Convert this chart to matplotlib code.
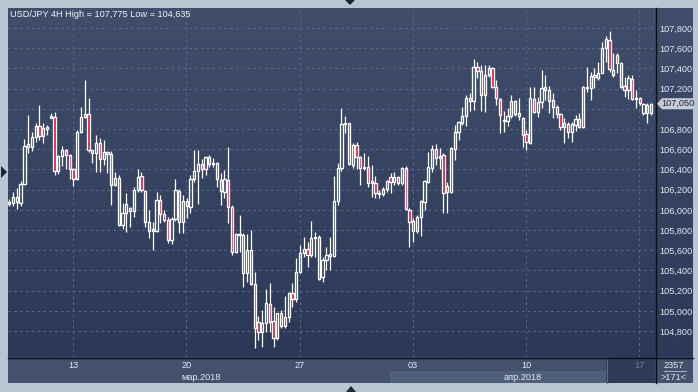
import matplotlib
matplotlib.use('Agg')
import matplotlib.pyplot as plt
import numpy as np
from matplotlib.patches import Rectangle, Polygon
from matplotlib.lines import Line2D
from matplotlib.colors import LinearSegmentedColormap
from matplotlib.transforms import blended_transform_factory

plt.rcParams['font.family'] = ['Liberation Sans', 'DejaVu Sans']
plt.rcParams['lines.scale_dashes'] = False

# USD/JPY 4H candles
opens = [106.054, 106.070, 106.124, 106.070, 106.252, 106.648, 106.619, 106.721, 106.830, 106.734,
         106.797, 106.912, 106.922, 106.387, 106.533, 106.589, 106.540, 106.401, 106.302, 106.767,
         106.916, 106.948, 106.589, 106.559, 106.658, 106.500, 106.569, 106.549, 106.246, 106.312,
         105.850, 105.965, 106.015, 105.988, 106.196, 106.335, 106.183, 105.876, 105.790, 105.790,
         106.094, 105.955, 105.896, 105.701, 105.906, 106.186, 105.876, 106.087, 106.031, 106.302,
         106.384, 106.450, 106.401, 106.520, 106.450, 106.466, 106.295, 106.179, 106.295, 106.031,
         105.585, 105.748, 105.751, 105.377, 105.602, 105.262, 104.892, 104.793, 104.876, 105.067,
         104.899, 104.728, 104.975, 104.850, 104.936, 105.173, 105.114, 105.387, 105.575, 105.609,
         105.553, 105.718, 105.728, 105.332, 105.503, 105.543, 105.543, 106.087, 106.411, 106.846,
         106.859, 106.444, 106.642, 106.526, 106.411, 106.421, 106.285, 106.262, 106.153, 106.156,
         106.203, 106.328, 106.278, 106.328, 106.268, 106.411, 105.998, 105.889, 105.790, 105.926,
         106.080, 106.278, 106.417, 106.602, 106.510, 106.543, 106.179, 106.179, 106.602, 106.767,
         106.862, 106.929, 107.104, 107.077, 107.411, 107.377, 107.137, 107.335, 107.401, 107.213,
         107.097, 106.876, 106.879, 106.932, 107.077, 106.955, 106.912, 106.747, 106.658, 107.097,
         106.965, 107.070, 107.216, 107.183, 107.084, 107.018, 106.945, 106.823, 106.852, 106.773,
         106.840, 106.896, 106.823, 107.209, 107.209, 107.318, 107.308, 107.357, 107.599, 107.681,
         107.384, 107.533, 107.450, 107.226, 107.186, 107.295, 107.110, 107.104, 106.955, 107.038,
         106.955]
highs = [106.107, 106.179, 106.213, 106.285, 106.701, 106.939, 106.773, 106.856, 107.038, 106.856,
         106.840, 106.955, 106.965, 106.543, 106.635, 106.602, 106.549, 106.411, 106.790, 107.021,
         107.285, 107.104, 106.592, 106.741, 106.708, 106.691, 106.582, 106.582, 106.377, 106.345,
         106.064, 106.163, 106.028, 106.229, 106.401, 106.377, 106.196, 105.998, 105.882, 106.179,
         106.147, 105.998, 105.932, 105.932, 106.302, 106.203, 106.147, 106.114, 106.345, 106.592,
         106.592, 106.500, 106.533, 106.543, 106.510, 106.476, 106.361, 106.394, 106.625, 106.048,
         105.770, 105.949, 105.767, 105.760, 105.800, 105.381, 104.949, 105.008, 105.216, 105.272,
         105.041, 104.981, 105.008, 105.147, 105.189, 105.272, 105.520, 105.652, 105.734, 105.684,
         105.889, 105.783, 105.751, 105.536, 105.635, 105.728, 106.335, 106.460, 107.005, 106.929,
         106.862, 106.664, 106.674, 106.533, 106.565, 106.533, 106.444, 106.335, 106.196, 106.223,
         106.295, 106.367, 106.377, 106.335, 106.427, 106.434, 106.015, 105.916, 105.949, 106.097,
         106.295, 106.575, 106.642, 106.651, 106.609, 106.559, 106.278, 106.625, 106.840, 106.879,
         107.015, 107.137, 107.153, 107.490, 107.466, 107.434, 107.434, 107.434, 107.417, 107.285,
         107.104, 106.978, 107.011, 107.137, 107.087, 107.104, 106.922, 106.790, 107.219, 107.219,
         107.120, 107.384, 107.335, 107.226, 107.153, 107.038, 106.955, 106.906, 106.872, 106.872,
         106.939, 106.955, 107.229, 107.417, 107.361, 107.401, 107.466, 107.664, 107.724, 107.775,
         107.549, 107.549, 107.466, 107.318, 107.335, 107.335, 107.186, 107.120, 107.054, 107.054,
         107.054]
lows = [106.041, 106.041, 106.008, 106.041, 106.246, 106.559, 106.582, 106.674, 106.691, 106.658,
        106.741, 106.906, 106.345, 106.351, 106.437, 106.404, 106.305, 106.239, 106.295, 106.757,
        106.906, 106.575, 106.460, 106.371, 106.377, 106.444, 106.361, 106.048, 106.239, 105.843,
        105.810, 105.777, 105.833, 105.932, 106.179, 106.179, 105.833, 105.718, 105.602, 105.783,
        105.866, 105.882, 105.668, 105.661, 105.889, 105.773, 105.773, 105.916, 105.971, 106.278,
        106.057, 106.312, 106.345, 106.421, 106.427, 106.229, 106.048, 106.114, 105.866, 105.553,
        105.572, 105.585, 105.239, 105.288, 105.256, 104.635, 104.711, 104.639, 104.793, 104.793,
        104.645, 104.711, 104.827, 104.827, 104.892, 105.041, 105.090, 105.377, 105.536, 105.431,
        105.536, 105.536, 105.305, 105.288, 105.404, 105.404, 105.536, 106.048, 106.387, 106.757,
        106.444, 106.411, 106.401, 106.246, 106.394, 106.223, 106.130, 106.114, 106.114, 106.137,
        106.179, 106.169, 106.246, 106.246, 106.246, 105.998, 105.635, 105.678, 105.773, 105.744,
        105.998, 106.262, 106.377, 106.444, 106.401, 105.971, 105.971, 106.163, 106.493, 106.691,
        106.840, 106.830, 106.981, 106.988, 107.302, 106.978, 106.971, 107.318, 107.203, 107.038,
        106.763, 106.767, 106.833, 106.906, 106.932, 106.889, 106.625, 106.592, 106.648, 106.955,
        106.922, 107.011, 107.087, 106.955, 106.912, 106.912, 106.790, 106.658, 106.708, 106.674,
        106.780, 106.807, 106.813, 107.169, 107.087, 107.203, 107.285, 107.351, 107.466, 107.367,
        107.318, 107.351, 107.203, 107.120, 107.097, 107.087, 107.011, 107.038, 106.939, 106.856,
        106.939]
closes = [106.074, 106.124, 106.074, 106.252, 106.635, 106.619, 106.721, 106.830, 106.734, 106.807,
          106.817, 106.929, 106.387, 106.533, 106.589, 106.540, 106.401, 106.302, 106.767, 106.916,
          106.948, 106.589, 106.559, 106.658, 106.500, 106.569, 106.549, 106.246, 106.312, 105.850,
          105.965, 106.057, 105.988, 106.196, 106.322, 106.196, 105.876, 105.790, 105.810, 106.094,
          105.955, 105.896, 105.701, 105.906, 106.193, 105.882, 106.087, 106.038, 106.302, 106.384,
          106.450, 106.401, 106.520, 106.453, 106.466, 106.302, 106.189, 106.302, 106.031, 105.585,
          105.757, 105.757, 105.377, 105.602, 105.262, 104.827, 104.793, 104.876, 105.074, 104.892,
          104.728, 104.975, 104.850, 104.936, 105.173, 105.114, 105.387, 105.569, 105.609, 105.553,
          105.724, 105.734, 105.312, 105.503, 105.553, 105.562, 106.087, 106.411, 106.849, 106.859,
          106.453, 106.642, 106.520, 106.411, 106.427, 106.268, 106.262, 106.163, 106.163, 106.203,
          106.285, 106.275, 106.328, 106.268, 106.411, 106.005, 105.882, 105.790, 105.926, 106.087,
          106.285, 106.427, 106.602, 106.510, 106.536, 106.169, 106.236, 106.609, 106.773, 106.872,
          106.929, 107.104, 107.077, 107.411, 107.377, 107.137, 107.335, 107.401, 107.213, 107.104,
          106.939, 106.889, 106.932, 107.077, 106.945, 106.929, 106.741, 106.668, 107.104, 106.965,
          107.070, 107.209, 107.183, 107.077, 107.018, 106.945, 106.823, 106.856, 106.773, 106.846,
          106.896, 106.823, 107.219, 107.219, 107.328, 107.335, 107.357, 107.599, 107.691, 107.391,
          107.335, 107.450, 107.219, 107.186, 107.302, 107.097, 107.097, 107.054, 107.044, 106.955,
          107.050]

week_labels = ['13', '20', '27', '03', '10', '17']
month_labels = ['мар.2018', 'апр.2018']
price_ticks = [104.8, 105.0, 105.2, 105.4, 105.6, 105.8, 106.0, 106.2,
               106.4, 106.6, 106.8, 107.0, 107.2, 107.4, 107.6, 107.8]
high_price = 107.775
low_price = 104.635
last_price = 107.050
bars_total = 2357
bars_visible = 171

bars_per_week = 30  # 6 bars a day, 5 days
first_week_bar = 16.9


def fmt(v):
    return f"{v:.3f}".replace('.', ',')


W, H = 698, 392
fig = plt.figure(figsize=(W / 100, H / 100), dpi=100, facecolor='#bac5d3')


def frac(x0, y0, x1, y1):
    return [x0 / W, 1 - y1 / H, (x1 - x0) / W, (y1 - y0) / H]


def prect(x0, y0, x1, y1, color, z=1):
    fig.patches.append(Rectangle((x0 / W, 1 - y1 / H), (x1 - x0) / W, (y1 - y0) / H,
                                 transform=fig.transFigure, facecolor=color,
                                 edgecolor='none', zorder=z))


def ppoly(pts, color, z=1):
    fig.patches.append(Polygon([(x / W, 1 - y / H) for x, y in pts], closed=True,
                               transform=fig.transFigure, facecolor=color,
                               edgecolor='none', zorder=z))


def pline(x0, y0, x1, y1, color, lw=1.0, z=2):
    fig.lines.append(Line2D([x0 / W, x1 / W], [1 - y0 / H, 1 - y1 / H],
                            transform=fig.transFigure, color=color, lw=lw, zorder=z))


# gradient background for chart + price scale
bg = fig.add_axes(frac(8, 8, 693, 357), zorder=-1)
cmap = LinearSegmentedColormap.from_list('bg', ['#2b3857', '#404e6c'])
bg.imshow(np.linspace(0, 1, 256).reshape(-1, 1)[::-1], aspect='auto', cmap=cmap,
          extent=[0, 1, 0, 1])
bg.axis('off')

ax = fig.add_axes(frac(8, 8, 655, 357))
ax.patch.set_alpha(0)
n = len(closes)
ax.set_xlim(-0.34, n + 0.05)
ax.set_ylim(104.543, 107.998)
for s in ax.spines.values():
    s.set_visible(False)

grid_c = '#5a6989'
week_pos = [first_week_bar + bars_per_week * k for k in range(len(week_labels))]
for p in price_ticks:
    ax.axhline(p, color=grid_c, lw=0.75, ls=(0, (1.8, 2.4)), zorder=1)
for x in week_pos:
    ax.axvline(x, color=grid_c, lw=0.75, ls=(0, (1.8, 2.4)), zorder=1)

red = '#e3143c'
bw = 0.6
for i, (o, h, l, c) in enumerate(zip(opens, highs, lows, closes)):
    top, bot = max(o, c), min(o, c)
    ax.vlines(i, top, h, color='white', lw=0.9, zorder=3)
    ax.vlines(i, l, bot, color='white', lw=0.9, zorder=3)
    ax.add_patch(Rectangle((i - bw / 2, bot), bw, max(top - bot, 0.005),
                           facecolor=red if c < o else 'none',
                           edgecolor='white', lw=0.95, zorder=4))

ax.set_xticks([])
ax.yaxis.tick_right()
ax.set_yticks(price_ticks)
# the 107,000 label sits under the current-price tag
ax.set_yticklabels(['' if abs(p - 107.0) < 1e-6 else fmt(p) for p in price_ticks])
ax.tick_params(axis='y', length=0, pad=3, labelsize=6.6, labelcolor='#e4e9f2')

ax.text(0.003, 0.98, f"USD/JPY 4H High = {fmt(high_price)} Low = {fmt(low_price)}",
        transform=ax.transAxes, ha='left', va='center', fontsize=6.6,
        color='#f2f4f8', zorder=6)

# bottom time scale
prect(8, 357, 655, 383, '#43516d')
prect(390, 371, 606, 383, '#4f5e7a')
prect(606, 357, 655, 383, '#2f3c59')
pline(606.5, 357, 606.5, 383, '#5c6b87', lw=0.8)
prect(655, 357, 693, 383, '#43516d')

tx = blended_transform_factory(ax.transData, fig.transFigure)
for x, lab in zip(week_pos, week_labels):
    col = '#6f7d9a' if x > 160 else '#e4e9f2'
    fig.text(x, 1 - 365 / H, lab, transform=tx, ha='center', va='center',
             fontsize=6.6, color=col)
for x, lab in zip([50.8, 136.0], month_labels):
    fig.text(x, 1 - 377 / H, lab, transform=tx, ha='center', va='center',
             fontsize=6.6, color='#e4e9f2')

fig.text(674 / W, 1 - 365 / H, str(bars_total), ha='center', va='center',
         fontsize=6.6, color='#e4e9f2')
fig.text(674 / W, 1 - 377.5 / H, f">{bars_visible}<", ha='center', va='center',
         fontsize=6.6, color='#e4e9f2')
pline(664, 371, 686, 371, '#b8c2d2', lw=0.6)

# separators
pline(655.5, 8, 655.5, 383, '#0a0e16', lw=1.0)
pline(8, 357.5, 693, 357.5, '#0a0e16', lw=1.0)

# current price tag
ty = blended_transform_factory(fig.transFigure, ax.transData)
hh = 0.055
fig.patches.append(Polygon([(657 / W, last_price), (662 / W, last_price + hh),
                            (693 / W, last_price + hh), (693 / W, last_price - hh),
                            (662 / W, last_price - hh)], closed=True, transform=ty,
                           facecolor='#c6cdd8', edgecolor='none', zorder=4))
fig.text(677.5 / W, last_price, fmt(last_price), transform=ty, ha='center', va='center',
         fontsize=6.6, color='#1a2232', zorder=5)

# scroll markers
ppoly([(345, 0), (355, 0), (350, 5)], '#1c2536')
ppoly([(346, 392), (356, 392), (351, 386)], '#1c2536')
ppoly([(1, 166), (7, 172), (1, 178)], '#1c2536')

fig.savefig('out.png', dpi=100, facecolor=fig.get_facecolor())
